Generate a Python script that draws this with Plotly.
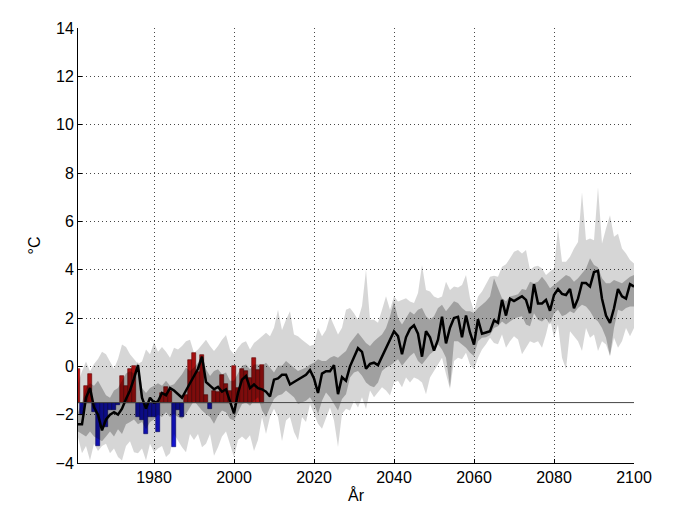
import plotly.graph_objects as go

# model years
years = list(range(1961, 2101))

# ensemble mean (black line)
mean = [
    -2.4, -2.4, -1.3, -0.9, -1.7, -2.0, -2.65, -2.2, -2.0, -1.9,
    -2.0, -1.75, -1.35, -1.0, -0.5, 0.05, -1.3, -1.75, -1.3, -1.5,
    -1.45, -1.1, -1.2, -0.9, -1.0, -1.15, -1.3, -1.0, -0.7, -0.45,
    -0.1, 0.4, -0.65, -0.8, -0.95, -0.85, -1.05, -0.95, -1.5, -1.95,
    -1.1, -0.55, -0.4, -0.9, -0.75, -0.9, -0.95, -1.05, -1.25, -0.55,
    -0.5, -0.35, -0.35, -0.75, -0.65, -0.55, -0.45, -0.35, -0.15, -0.5,
    -1.1, -0.3, -0.2, -0.2, 0.05, -1.15, -0.45, -0.6, 0.0, 0.4,
    0.75, 0.6, -0.1, 0.1, 0.15, 0.05, 0.4, 0.75, 1.05, 1.45,
    1.25, 0.5, 1.2, 1.55, 1.7, 1.35, 0.4, 1.45, 1.2, 0.65,
    1.1, 2.05, 0.95, 1.6, 2.0, 2.05, 1.2, 2.1, 1.4, 0.9,
    1.95, 1.35, 1.4, 1.45, 1.9, 1.8, 2.75, 2.1, 2.8, 2.7,
    2.8, 2.9, 2.75, 2.2, 3.4, 2.6, 2.6, 2.75, 2.3, 2.95,
    3.2, 3.0, 2.95, 3.2, 2.4, 2.8, 3.45, 3.45, 3.3, 3.9,
    3.95, 2.8, 2.1, 1.8, 2.4, 3.2, 2.9, 2.8, 3.4, 3.3,
]

# inner (dark) band
dark_hi = [
    -1.9, -1.5, -0.9, -0.7, -0.8, -0.6, -0.9, -1.2, -1.3, -1.0,
    -0.9, -0.6, -0.3, -0.2, -0.3, 0.2, -0.9, -1.1, -0.9, -0.8,
    -0.7, -0.8, -0.6, -0.8, -0.74, -0.53, -0.33, -0.05, -0.19, -0.05,
    0.15, 0.5, -0.12, -0.4, -0.19, -0.12, -0.33, -0.26, -0.6, -0.6,
    -0.26, 0.02, 0.08, -0.12, 0.08, 0.08, 0.02, 0.15, -0.05, -0.26,
    0.02, 0.02, 0.22, 0.08, -0.05, -0.19, -0.12, -0.05, 0.08, 0.15,
    0.29, 0.22, 0.22, 0.36, 0.43, 0.36, 0.5, 0.63, 0.97, 1.18,
    1.39, 1.18, 0.97, 0.84, 1.04, 1.18, 1.32, 1.59, 2.07, 2.68,
    2.0, 1.73, 2.0, 2.27, 2.14, 2.34, 2.41, 2.07, 1.93, 2.07,
    2.41, 2.55, 2.28, 2.48, 2.69, 2.62, 2.41, 2.28, 2.28, 2.21,
    2.41, 2.55, 2.69, 2.89, 3.64, 3.23, 2.82, 2.69, 2.89, 2.93,
    2.98, 3.2, 3.16, 3.5, 3.44, 3.5, 3.71, 3.5, 3.23, 3.37,
    3.5, 3.64, 3.78, 3.71, 3.5, 3.64, 3.85, 4.05, 4.47, 4.19,
    4.1, 3.64, 3.44, 3.44, 3.57, 3.5, 3.44, 3.57, 3.71, 3.78,
]
dark_lo = [
    -2.7, -2.8, -2.9, -2.7, -2.9, -3.0, -3.1, -2.9, -2.7, -2.9,
    -2.6, -2.8, -2.4, -2.3, -2.2, -2.4, -2.3, -2.6, -2.3, -2.2,
    -2.0, -2.1, -1.9, -2.1, -1.97, -2.1, -2.17, -1.97, -1.7, -1.42,
    -1.63, -1.83, -1.97, -2.1, -2.38, -2.03, -1.83, -1.9, -2.17, -2.24,
    -1.9, -1.56, -1.5, -1.63, -1.42, -1.28, -1.83, -2.1, -1.7, -1.35,
    -1.21, -1.15, -1.0, -1.15, -1.28, -1.56, -1.49, -1.42, -1.28, -1.56,
    -1.97, -1.42, -1.08, -1.28, -1.56, -1.83, -1.35, -1.15, -0.46, -0.26,
    -0.19, -0.39, -0.67, -0.8, -0.87, -0.67, -0.19, -0.05, 0.02, 0.15,
    0.29, 0.02, 0.22, 0.43, 0.56, 0.22, 0.08, 0.29, 0.5, 0.63,
    0.91, 0.7, 0.36, -0.87, 1.04, 1.04, 0.91, 0.77, 0.56, 0.43,
    1.04, 1.18, 1.2, 1.3, 1.59, 1.66, 1.86, 1.73, 1.86, 1.97,
    2.03, 2.07, 1.73, 1.66, 2.2, 1.93, 1.86, 2.0, 1.73, 2.2,
    2.34, 2.07, 2.14, 2.28, 2.2, 2.41, 2.55, 2.48, 2.28, 2.0,
    1.86, 1.59, 1.18, 0.43, 1.59, 2.34, 2.28, 2.41, 2.48, 2.48,
]

# outer (light) band
light_hi = [
    -0.7, -0.2, 0.2, -0.2, 0.1, 0.3, 0.6, 0.5, 0.2, -0.1,
    0.3, 0.9, 0.8, 0.5, 0.3, 0.1, 0.2, 0.7, 0.5, 1.0,
    0.6, 0.8, 0.6, 0.36, 0.77, 0.7, 0.84, 1.04, 1.1, 0.56,
    0.7, 0.9, 1.1, 0.84, 0.63, 0.84, 1.1, 1.3, 0.7, 0.5,
    0.77, 0.97, 1.04, 0.7, 0.97, 1.1, 1.25, 1.39, 1.25, 1.6,
    2.34, 1.5, 1.93, 2.28, 1.32, 1.25, 1.1, 0.97, 0.84, 0.9,
    1.6, 1.25, 1.5, 2.07, 1.73, 1.32, 1.6, 2.34, 2.41, 2.2,
    1.93, 2.5, 4.0, 1.93, 1.93, 1.8, 2.34, 2.9, 2.34, 2.9,
    2.68, 2.75, 2.82, 2.68, 2.62, 3.03, 4.19, 3.16, 3.1, 2.89,
    2.82, 2.89, 3.5, 3.16, 3.3, 3.26, 3.37, 3.78, 2.82, 2.28,
    2.89, 3.1, 3.44, 3.71, 3.75, 3.71, 4.12, 4.22, 4.47, 4.74,
    4.81, 4.67, 4.81, 3.99, 4.12, 4.16, 4.05, 3.78, 3.92, 4.05,
    5.7, 4.33, 4.33, 4.53, 4.88, 5.15, 7.2, 5.22, 5.29, 5.22,
    7.41, 5.08, 5.7, 6.25, 5.36, 5.49, 4.88, 4.67, 4.4, 4.26,
]
light_lo = [
    -2.93, -3.6, -3.3, -3.9, -3.2, -3.5, -3.3, -3.2, -3.6, -3.4,
    -3.75, -3.9, -3.3, -3.1, -3.55, -3.6, -3.4, -3.9, -3.2, -3.55,
    -3.4, -3.3, -3.75, -3.6, -2.8, -3.1, -3.35, -3.55, -2.8, -3.05,
    -2.8, -3.35, -3.2, -2.8, -3.7, -3.35, -2.9, -2.7, -3.2, -3.75,
    -3.05, -2.9, -3.05, -2.85, -3.5, -3.05, -2.1, -2.8, -2.1, -1.76,
    -2.1, -3.1, -2.24, -2.1, -2.72, -3.06, -2.1, -2.3, -1.56, -1.97,
    -2.38, -2.58, -2.1, -1.7, -2.24, -3.34, -1.97, -1.76, -1.83, -1.42,
    -1.7, -1.28, -1.77, -1.0, -1.28, -1.08, -0.87, -1.0, -1.21, -0.67,
    -0.6, -0.87, -0.46, -0.67, -0.46, -0.53, -0.67, -1.15, -0.46, -0.19,
    0.08, 0.36, -0.32, -0.94, 0.22, 0.36, 0.29, 0.56, 0.08, -0.12,
    0.36, 0.7, 0.91, 1.18, 0.97, 0.91, 1.32, 0.77, 1.04, 1.25,
    1.11, 0.5, 0.77, 1.04, 0.97, 1.04, 0.77, 1.32, 2.0, 1.18,
    1.73, 0.36, -0.12, 1.45, 1.25, 1.04, 0.63, 1.59, 1.18, 1.32,
    0.63, 1.04, 0.9, 0.43, 1.18, 0.77, 1.04, 1.59, 1.25, 1.59,
]

# observed values (bars from the reference level)
obs_years = list(range(1961, 2008))
obs = [
    -0.1, -2.0, -0.8, -0.3, -1.9, -3.3, -2.5, -2.5, -1.8, -1.8,
    -1.6, -0.4, -0.8, -0.1, 0.0, -2.1, -2.2, -2.8, -2.1, -2.1,
    -2.7, -1.1, -0.85, -1.0, -3.35, -1.8, -2.1, -1.2, 0.25, 0.55,
    -0.25, 0.45, -1.2, -1.75, -1.0, -1.05, -0.35, -0.75, -1.0, 0.0,
    -0.9, -0.1, -0.2, -0.5, 0.35, -0.15, 0.05,
]
BASE = -1.5

bar_colors = ['rgb(200,20,20)' if v > BASE else 'rgb(20,20,210)' for v in obs]
edge_colors = ['rgb(110,0,0)' if v > BASE else 'rgb(0,0,110)' for v in obs]

fig = go.Figure()
fig.add_trace(go.Bar(x=obs_years, y=[v - BASE for v in obs], base=BASE, width=1,
                     marker=dict(color=bar_colors,
                                 line=dict(color=edge_colors, width=0.6)),
                     showlegend=False))

fig.add_trace(go.Scatter(x=years, y=light_lo, mode='lines', line=dict(width=0),
                         showlegend=False))
fig.add_trace(go.Scatter(x=years, y=light_hi, mode='lines', line=dict(width=0),
                         fill='tonexty', fillcolor='rgba(0,0,0,0.16)',
                         showlegend=False))
fig.add_trace(go.Scatter(x=years, y=dark_lo, mode='lines', line=dict(width=0),
                         showlegend=False))
fig.add_trace(go.Scatter(x=years, y=dark_hi, mode='lines', line=dict(width=0),
                         fill='tonexty', fillcolor='rgba(0,0,0,0.25)',
                         showlegend=False))
fig.add_trace(go.Scatter(x=years, y=mean, mode='lines',
                         line=dict(color='black', width=2.5),
                         showlegend=False))

fig.add_shape(type='line', xref='paper', x0=0, x1=1, y0=BASE, y1=BASE,
              line=dict(color='rgb(70,70,70)', width=1))

axis_style = dict(showgrid=True, griddash='1px,3px', gridcolor='rgb(70,70,70)',
                  gridwidth=1, showline=True, linecolor='black', linewidth=1,
                  zeroline=False, ticks='inside', ticklen=4, tickcolor='black',
                  tickfont=dict(size=16, color='black'))

# the page body adds an 8px offset, so the figure is a bit smaller than the window
fig.update_layout(
    width=672, height=506,
    margin=dict(l=70, r=46, t=17, b=51),
    paper_bgcolor='white', plot_bgcolor='white',
    font=dict(family='Liberation Sans, Arial, sans-serif', color='black'),
    bargap=0,
    xaxis=dict(range=[1961, 2100], tickvals=list(range(1980, 2101, 20)),
               title=dict(text='År', font=dict(size=16), standoff=4),
               **axis_style),
    yaxis=dict(range=[-4, 14], tickvals=list(range(-4, 15, 2)),
               title=dict(text='°C', font=dict(size=16), standoff=10),
               **axis_style),
)

fig.write_html("out.html")
